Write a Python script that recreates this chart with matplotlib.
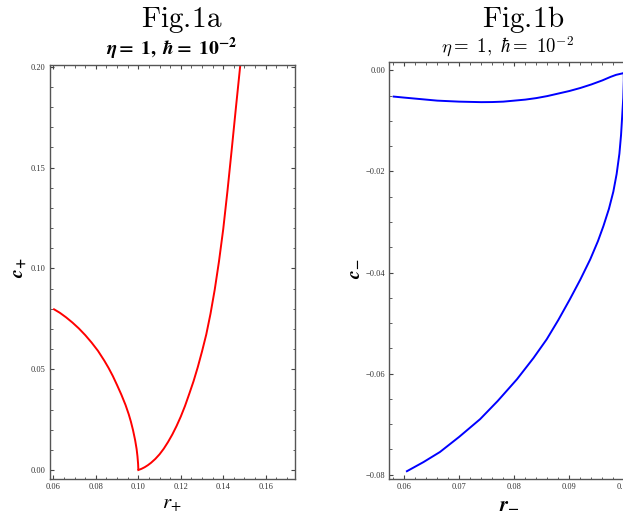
import matplotlib
matplotlib.use("Agg")
import matplotlib.pyplot as plt
from matplotlib.ticker import MultipleLocator, FuncFormatter

# Fig.1a : c_+ versus r_+ (two branches meeting at r_+ = 0.1)
r_plus_left = [0.0603, 0.0630, 0.0660, 0.0690, 0.0720, 0.0750, 0.0780, 0.0810,
               0.0840, 0.0860, 0.0880, 0.0900, 0.0920, 0.0940, 0.0955, 0.0965,
               0.0975, 0.0985, 0.0992, 0.0996, 0.0999, 0.1000]
c_plus_left = [0.0797, 0.0780, 0.0757, 0.0731, 0.0702, 0.0669, 0.0632, 0.0591,
               0.0542, 0.0506, 0.0466, 0.0421, 0.0374, 0.0322, 0.0276, 0.0240,
               0.0198, 0.0148, 0.0104, 0.0068, 0.0030, 0.0005]
r_plus_right = [0.1000, 0.1015, 0.1030, 0.1045, 0.1060, 0.1080, 0.1100, 0.1120,
                0.1140, 0.1160, 0.1180, 0.1200, 0.1220, 0.1240, 0.1260, 0.1280,
                0.1300, 0.1320, 0.1340, 0.1360, 0.1380, 0.1400, 0.1420, 0.1440,
                0.1460, 0.1480, 0.1490]
c_plus_right = [0.0000, 0.0006, 0.0014, 0.0024, 0.0036, 0.0055, 0.0078, 0.0106,
                0.0139, 0.0176, 0.0218, 0.0265, 0.0318, 0.0378, 0.0440, 0.0510,
                0.0588, 0.0672, 0.0775, 0.0895, 0.1035, 0.1195, 0.1385, 0.1590,
                0.1800, 0.2005, 0.2105]

# Fig.1b : c_- versus r_-
r_minus_upper = [0.0581, 0.0600, 0.0620, 0.0640, 0.0660, 0.0680, 0.0700, 0.0720,
                 0.0740, 0.0760, 0.0780, 0.0800, 0.0820, 0.0840, 0.0860, 0.0880,
                 0.0900, 0.0920, 0.0940, 0.0960, 0.0975, 0.0985, 0.0997]
c_minus_upper = [-0.0052, -0.0054, -0.0056, -0.0058, -0.0060, -0.0061, -0.0062,
                 -0.00625, -0.0063, -0.00628, -0.0062, -0.0060, -0.0058, -0.0055,
                 -0.0051, -0.0046, -0.0041, -0.0035, -0.0028, -0.0020, -0.0013,
                 -0.0009, -0.0006]
r_minus_lower = [0.0605, 0.0635, 0.0665, 0.0700, 0.0738, 0.0770, 0.0805, 0.0835,
                 0.0859, 0.0880, 0.0901, 0.0920, 0.0938, 0.0952, 0.0962, 0.0972,
                 0.0980, 0.0986, 0.0991, 0.0994, 0.0996, 0.0998, 0.0999, 0.0999]
c_minus_lower = [-0.0793, -0.0775, -0.0755, -0.0725, -0.0690, -0.0654, -0.0611,
                 -0.0569, -0.0532, -0.0494, -0.0453, -0.0414, -0.0374, -0.0338,
                 -0.0308, -0.0274, -0.0240, -0.0205, -0.0165, -0.0128, -0.0092,
                 -0.0055, -0.0020, -0.0006]

W, H = 623, 516
fig = plt.figure(figsize=(W / 100, H / 100), dpi=100)


def px_axes(left, top, right, bottom):
    return fig.add_axes([left / W, 1 - bottom / H, (right - left) / W, (bottom - top) / H])


def style_axes(ax, xmajor, xminor, ymajor, yminor, right=True):
    ax.xaxis.set_major_locator(MultipleLocator(xmajor))
    ax.xaxis.set_minor_locator(MultipleLocator(xminor))
    ax.yaxis.set_major_locator(MultipleLocator(ymajor))
    ax.yaxis.set_minor_locator(MultipleLocator(yminor))
    fmt = FuncFormatter(lambda v, p: ('%.2f' % v).replace('-', '\u2212'))
    ax.xaxis.set_major_formatter(fmt)
    ax.yaxis.set_major_formatter(fmt)
    ax.tick_params(which='both', direction='in', top=True, right=right,
                   colors='#444444', labelcolor='#333333', labelsize=6, pad=3)
    ax.tick_params(which='major', length=3, width=0.8)
    ax.tick_params(which='minor', length=1.8, width=0.6)
    for lab in ax.get_xticklabels() + ax.get_yticklabels():
        lab.set_family('Liberation Serif')
    for s in ax.spines.values():
        s.set_color('#555555')
        s.set_linewidth(1.0)


ax1 = px_axes(50, 65.3, 295, 478.7)
ax1.plot(r_plus_left, c_plus_left, color='red', lw=1.4)
ax1.plot(r_plus_right, c_plus_right, color='red', lw=1.4)
ax1.set_xlim(0.0584, 0.1738)
ax1.set_ylim(-0.0043, 0.2007)
style_axes(ax1, 0.02, 0.005, 0.05, 0.01)

ax2 = px_axes(389.3, 61.7, 626, 479.3)
ax2.plot(r_minus_upper, c_minus_upper, color='blue', lw=1.4)
ax2.plot(r_minus_lower, c_minus_lower, color='blue', lw=1.4)
ax2.set_xlim(0.0573, 0.1003)
ax2.set_ylim(-0.0809, 0.0017)
style_axes(ax2, 0.01, 0.002, 0.02, 0.005, right=False)

# titles
fig.text(182 / W, 1 - 27 / H, r'$\mathrm{Fig.\!1a}$', math_fontfamily='cm',
         fontsize=21, ha='center', va='baseline')
fig.text(172 / W, 1 - 55 / H,
         r'$\mathbfit{\eta}\mathbf{{=}\ 1,\ }\mathbfit{\hbar}\mathbf{{=}\ 10^{-2}}$',
         math_fontfamily='stix', fontsize=14, ha='center', va='baseline')
fig.text(523 / W, 1 - 27 / H, r'$\mathrm{Fig.\!1b}$', math_fontfamily='cm',
         fontsize=21, ha='center', va='baseline')
fig.text(507 / W, 1 - 53 / H, r'$\eta{=}\ 1,\ \hbar{=}\ 10^{-2}$',
         math_fontfamily='cm', fontsize=13.5, ha='center', va='baseline')

# axis labels
fig.text(21 / W, 1 - 268 / H, r'$\mathbfit{c}_{\mathbf{+}}$', math_fontfamily='stix',
         fontsize=14, rotation=90, ha='center', va='center')
fig.text(353 / W, 1 - 269 / H, r'$\mathbfit{c}_{\mathbf{-}}$', math_fontfamily='stix',
         fontsize=14, rotation=90, ha='center', va='center')
fig.text(172 / W, 1 - 508 / H, r'$r_{+}$', math_fontfamily='stix',
         fontsize=15, ha='center', va='baseline')
fig.text(509 / W, 1 - 509 / H, r'$\mathbfit{r}_{\mathbf{-}}$', math_fontfamily='stix',
         fontsize=15, ha='center', va='baseline')

fig.savefig('out.png', dpi=100)
